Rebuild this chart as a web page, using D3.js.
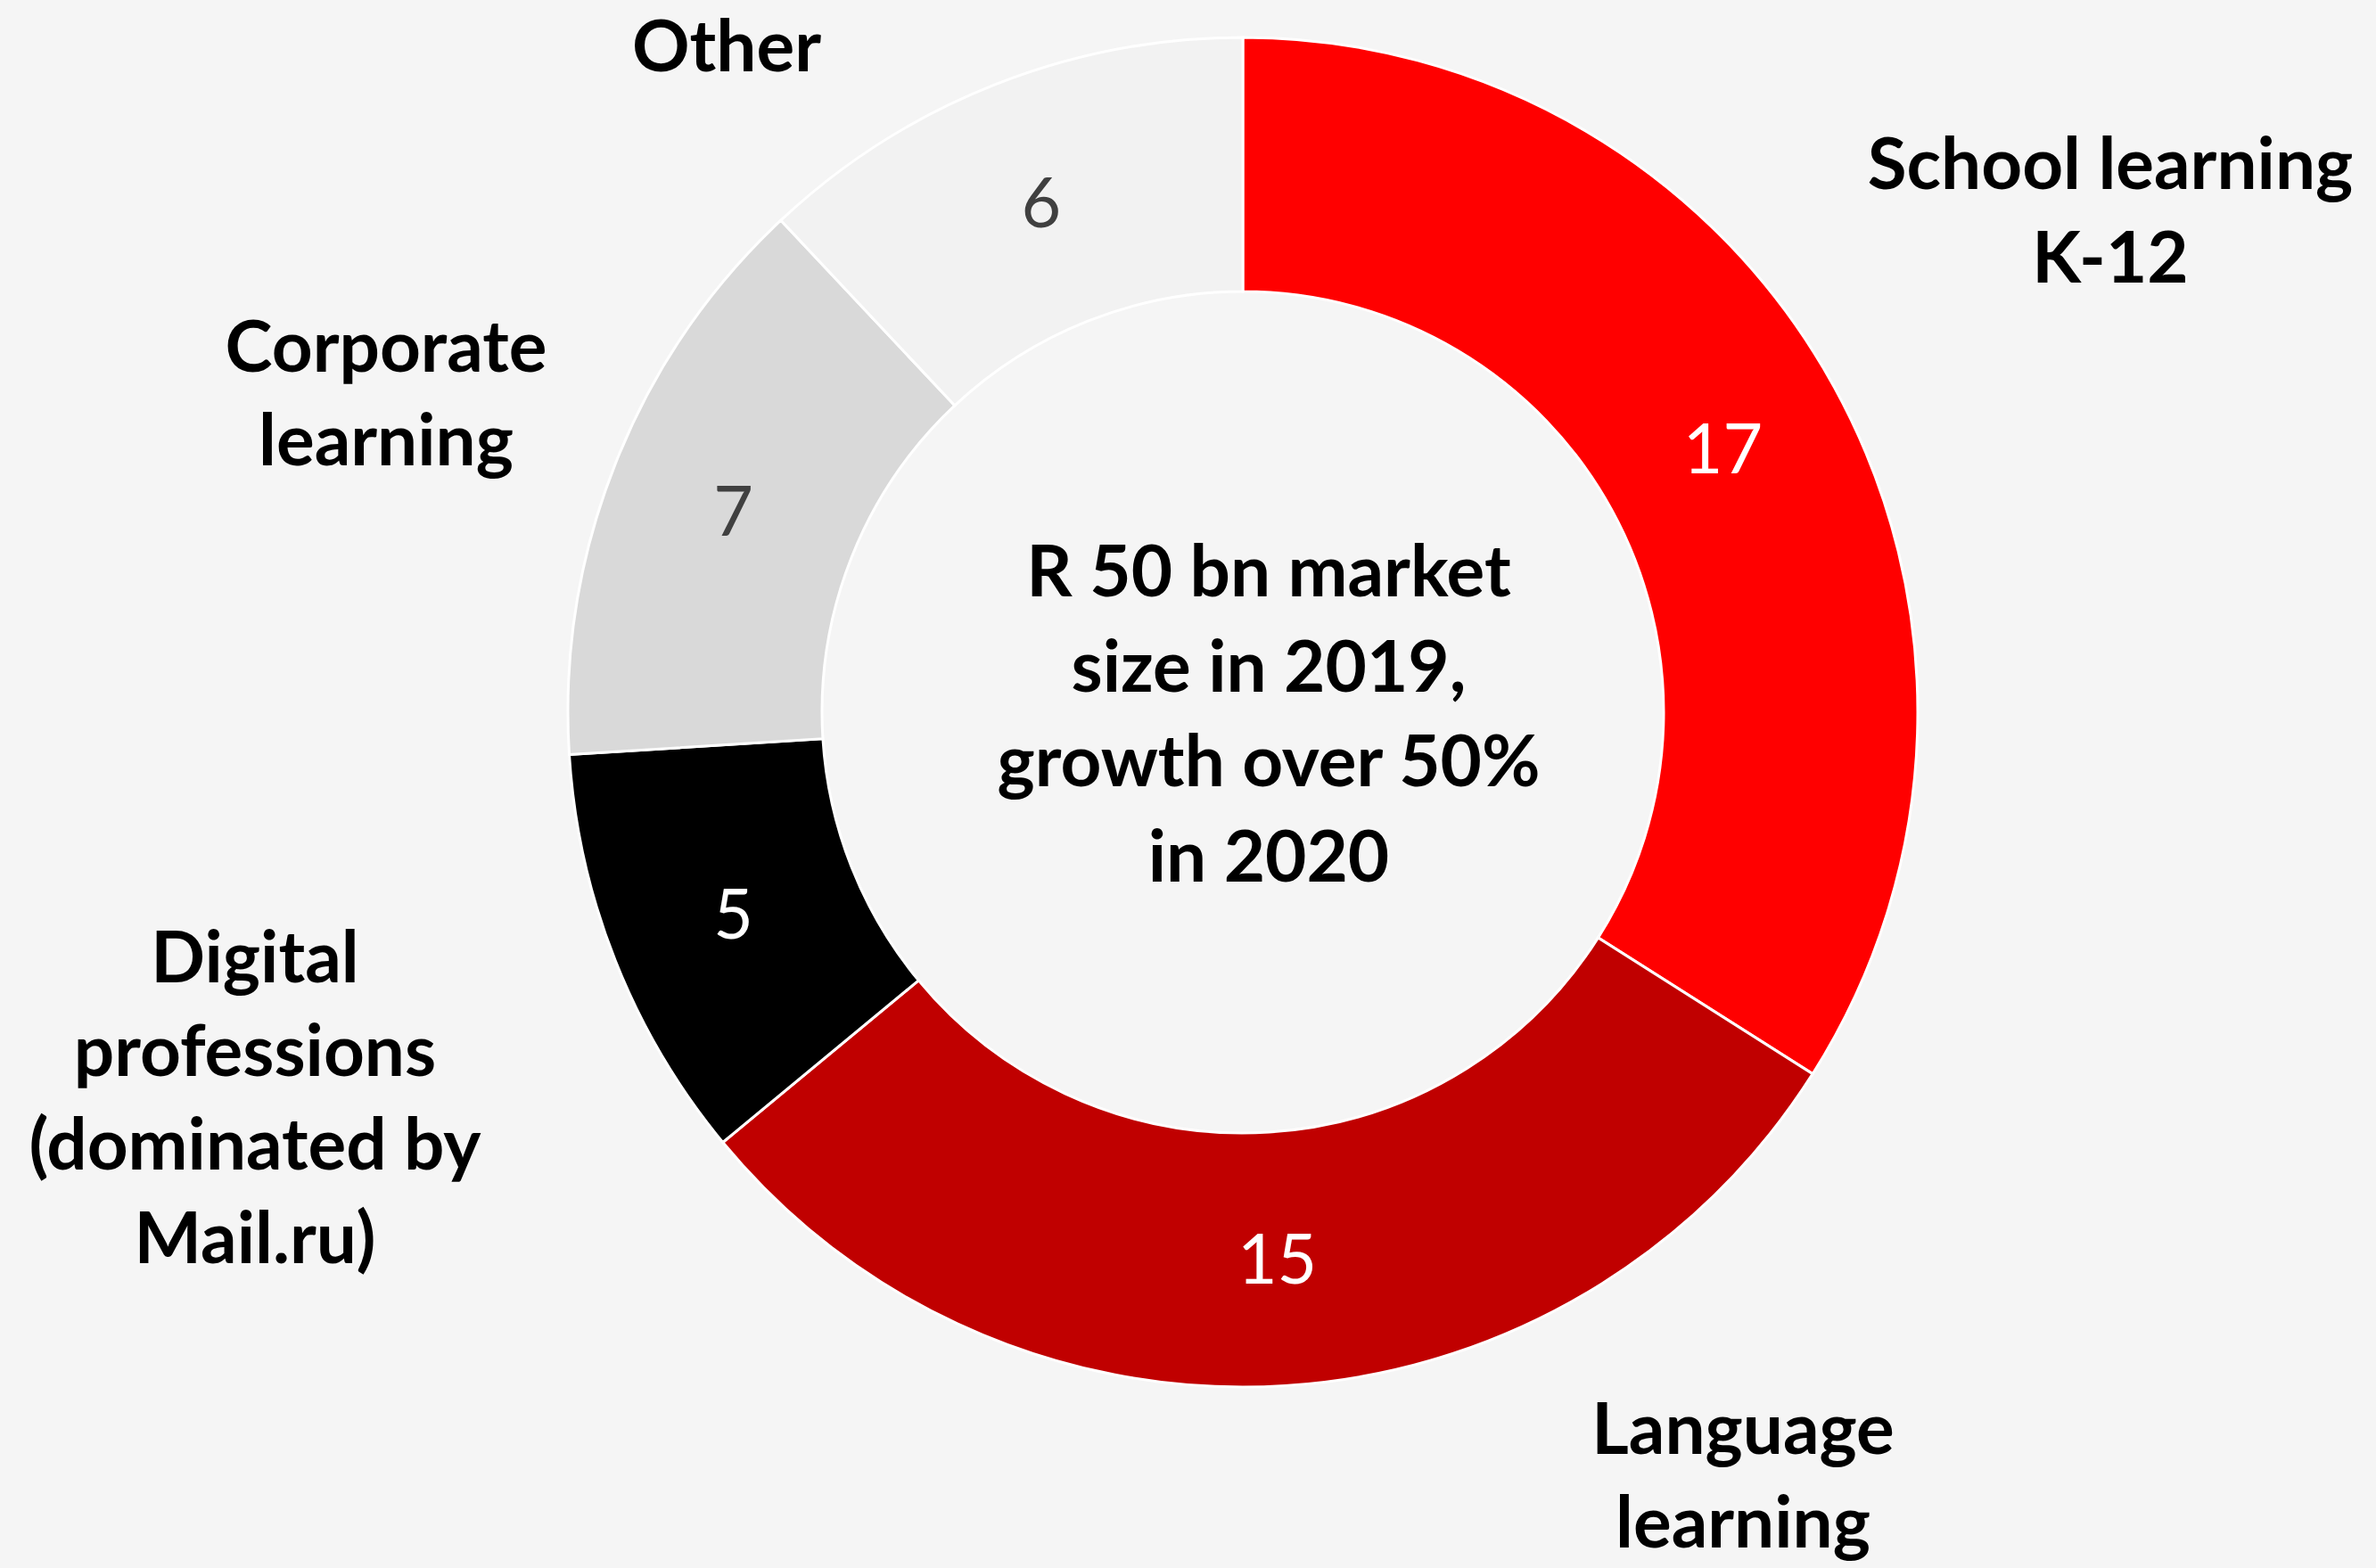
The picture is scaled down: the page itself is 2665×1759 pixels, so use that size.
<!DOCTYPE html>
<html>
<head>
<meta charset="utf-8">
<script src="https://cdn.jsdelivr.net/npm/d3@7"></script>
<style>
  html, body { margin: 0; padding: 0; background: #f5f5f5; }
  svg { display: block; }
  .seg-label { font-family: Lato, "Open Sans", sans-serif; font-weight: 700; font-size: 80px; fill: #000; }
  .center-label { font-family: Lato, "Open Sans", sans-serif; font-weight: 700; font-size: 80px; fill: #000; }
  .value-label { font-family: Lato, "Open Sans", sans-serif; font-weight: 400; font-size: 77px; }
</style>
</head>
<body>
<svg class="donut"></svg>
<script>
// data
const categories = ["School learning K-12", "Language learning", "Digital professions (dominated by Mail.ru)", "Corporate learning", "Other"];
const values = [17, 15, 5, 7, 6];
const labelLines = [
  ["School learning", "K-12"],
  ["Language", "learning"],
  ["Digital", "professions", "(dominated by", "Mail.ru)"],
  ["Corporate", "learning"],
  ["Other"]
];
const centerLines = ["R 50 bn market", "size in 2019,", "growth over 50%", "in 2020"];

// styling
const sliceColors = ["#ff0000", "#c00000", "#000000", "#d9d9d9", "#f2f2f2"];
const valueColors = ["#ffffff", "#ffffff", "#ffffff", "#404040", "#404040"];
// where each outer label block starts (x centre, first baseline)
const labelAnchors = [[2367, 212], [1955, 1631], [286, 1102], [433, 417], [815, 80]];

const settings = {
  width: 2665,
  height: 1759,
  cx: 1394,
  cy: 799,
  outerRadius: 757,
  innerRadius: 472,
  lineHeight: 105,
  centerX: 1423,
  centerFirstBaseline: 669
};

const svg = d3.select(".donut")
  .attr("width", settings.width)
  .attr("height", settings.height);

svg.append("rect")
  .attr("width", settings.width)
  .attr("height", settings.height)
  .attr("fill", "#f5f5f5");

const data = categories.map((name, i) => ({ name, value: values[i], i }));

const pie = d3.pie()
  .value(d => d.value)
  .sort(null)
  .startAngle(0)
  .endAngle(2 * Math.PI);

const arc = d3.arc()
  .innerRadius(settings.innerRadius)
  .outerRadius(settings.outerRadius);

const arcs = pie(data);

const chart = svg.append("g")
  .attr("transform", `translate(${settings.cx},${settings.cy})`);

chart.selectAll("path.slice")
  .data(arcs)
  .join("path")
  .attr("class", "slice")
  .attr("d", arc)
  .attr("fill", d => sliceColors[d.data.i])
  .attr("stroke", "#ffffff")
  .attr("stroke-width", 3)
  .attr("stroke-linejoin", "miter");

chart.selectAll("text.value-label")
  .data(arcs)
  .join("text")
  .attr("class", "value-label")
  .attr("text-anchor", "middle")
  .attr("dy", "0.36em")
  .attr("x", d => arc.centroid(d)[0])
  .attr("y", d => arc.centroid(d)[1])
  .attr("fill", d => valueColors[d.data.i])
  .text(d => d.data.value);

// category labels outside the ring
const labelGroups = svg.selectAll("text.seg-label")
  .data(data)
  .join("text")
  .attr("class", "seg-label")
  .attr("text-anchor", "middle");

labelGroups.each(function (d) {
  const [x, y] = labelAnchors[d.i];
  d3.select(this).selectAll("tspan")
    .data(labelLines[d.i])
    .join("tspan")
    .attr("x", x)
    .attr("y", (line, j) => y + j * settings.lineHeight)
    .text(line => line);
});

// centre text
svg.append("text")
  .attr("class", "center-label")
  .attr("text-anchor", "middle")
  .selectAll("tspan")
  .data(centerLines)
  .join("tspan")
  .attr("x", settings.centerX)
  .attr("y", (line, j) => settings.centerFirstBaseline + j * 106.5)
  .text(line => line);
</script>
</body>
</html>
